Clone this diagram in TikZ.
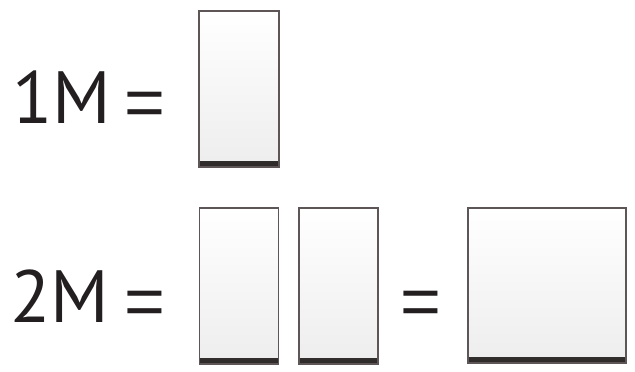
\documentclass[tikz,border=0pt]{standalone}
\usepackage{fontspec}
\setmainfont{PT Sans}
\newfontfamily\eqfont{Liberation Sans}
\definecolor{frame}{HTML}{5E5656}
\definecolor{band}{HTML}{2E2A2A}
\definecolor{txt}{HTML}{231F20}
\tikzset{
  panel/.style={draw=frame, line width=1.6pt, inner sep=0pt,
    top color=white, bottom color=black!7,
    path picture={\fill[top color=band!55, bottom color=band]
      (path picture bounding box.south west) rectangle
      ([yshift=5.5pt]path picture bounding box.south east);}},
  lbl/.style={inner sep=0pt, text=txt, font=\fontsize{74}{74}\selectfont, anchor=base west},
  eq/.style={inner sep=0pt, text=txt, font=\eqfont\fontsize{70}{70}\selectfont, anchor=base, yshift=-3pt}
}
\begin{document}
\begin{tikzpicture}[x=1pt,y=-1pt]
\useasboundingbox (0,0) rectangle (635,372);
\node[lbl] (one) at (12,123) {1M};
\node[eq] (eqa) at (145,123) {=};
\node[panel, minimum width=80pt, minimum height=156pt] (b1) at (239,89) {};
\node[lbl] (two) at (10,322) {2M};
\node[eq] (eqb) at (145,322) {=};
\node[panel, minimum width=79pt, minimum height=156pt] (b2a) at (239,286) {};
\node[panel, minimum width=79pt, minimum height=156pt] (b2b) at (338.5,286) {};
\node[eq] (eqc) at (420.5,322) {=};
\node[panel, minimum width=158pt, minimum height=155pt] (b2c) at (547,285.5) {};
\end{tikzpicture}
\end{document}
